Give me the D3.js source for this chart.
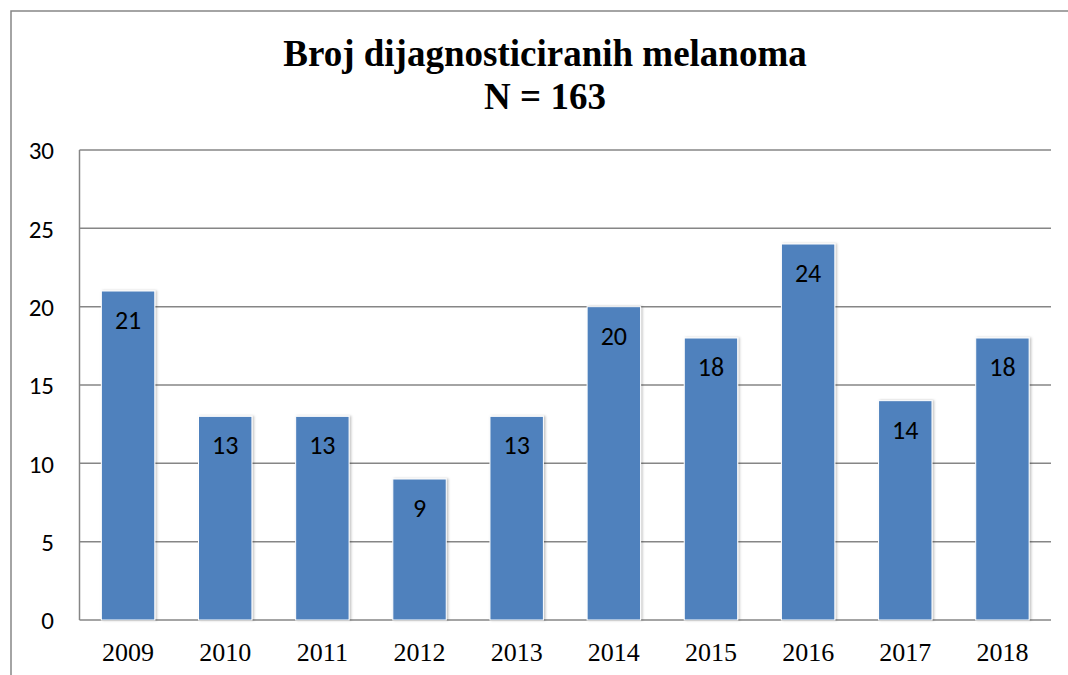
<!DOCTYPE html>
<html><head><meta charset="utf-8">
<script src="https://cdn.jsdelivr.net/npm/d3@7"></script>
<style>body{margin:0;background:#fff}svg{display:block}</style>
</head><body>
<svg id="c" width="1068" height="675"></svg>
<script>
const categories = ["2009","2010","2011","2012","2013","2014","2015","2016","2017","2018"];
const values = [21,13,13,9,13,20,18,24,14,18];
const yTicks = [0,5,10,15,20,25,30];
const titleLines = ["Broj dijagnosticiranih melanoma","N = 163"];

const svg = d3.select("#c");
const m = {left:79.5, top:150, right:1051, bottom:620};
const sans = "Carlito, 'Open Sans', 'Liberation Sans', sans-serif";
const serif = "'Liberation Serif', 'Times New Roman', serif";

svg.append("rect").attr("x",11).attr("y",11).attr("width",1100).attr("height",700)
  .attr("fill","#fff").attr("stroke","#868686").attr("stroke-width",1.5);

const defs = svg.append("defs");
const f = defs.append("filter").attr("id","sh").attr("x","-20%").attr("y","-5%").attr("width","140%").attr("height","110%");
f.append("feDropShadow").attr("dx",1.5).attr("dy",0).attr("stdDeviation",1.2).attr("flood-color","#000").attr("flood-opacity",0.25);

const x = d3.scaleBand().domain(categories).range([m.left,m.right]).paddingInner(0.45).paddingOuter(0.225);
const y = d3.scaleLinear().domain([0,30]).range([m.bottom,m.top]);

svg.append("g").selectAll("line").data(yTicks).join("line")
  .attr("x1",m.left).attr("x2",m.right)
  .attr("y1",d=>y(d)).attr("y2",d=>y(d))
  .attr("stroke","#868686").attr("stroke-width",1.5);

svg.append("line").attr("x1",m.left).attr("x2",m.left).attr("y1",m.top).attr("y2",m.bottom)
  .attr("stroke","#868686").attr("stroke-width",1.5);

const yAxis = d3.axisLeft(y).tickValues(yTicks).tickSize(0).tickPadding(0);
const gy = svg.append("g").attr("transform",`translate(${m.left-25.5},0)`).call(yAxis);
gy.select(".domain").remove();
gy.selectAll("text").attr("font-family",sans)
  .attr("font-size",25).attr("fill","#000").attr("dy","0.35em");

svg.append("g").selectAll("rect").data(values).join("rect")
  .attr("x",(d,i)=>x(categories[i])).attr("width",x.bandwidth())
  .attr("y",d=>y(d)).attr("height",d=>y(0)-y(d))
  .attr("fill","#4F81BD").attr("stroke","#fff").attr("stroke-width",1)
  .attr("filter","url(#sh)");

svg.append("g").selectAll("text").data(values).join("text")
  .attr("x",(d,i)=>x(categories[i])+x.bandwidth()/2)
  .attr("y",d=>y(d)+29).attr("dy","0.35em")
  .attr("text-anchor","middle")
  .attr("font-family",sans)
  .attr("font-size",26).attr("fill","#000").text(d=>d);

const xAxis = d3.axisBottom(x).tickSize(0).tickPadding(0);
const gx = svg.append("g").attr("transform",`translate(0,${m.bottom+32})`).call(xAxis);
gx.select(".domain").remove();
gx.selectAll("text").attr("font-family",serif)
  .attr("font-size",26).attr("fill","#000").attr("dy","0.35em");

svg.append("g").selectAll("text").data(titleLines).join("text")
  .attr("x",545).attr("y",(d,i)=>66+i*43)
  .attr("text-anchor","middle")
  .attr("font-family",serif)
  .attr("font-weight","bold").attr("font-size",37).attr("fill","#000").text(d=>d);
</script>
</body></html>
